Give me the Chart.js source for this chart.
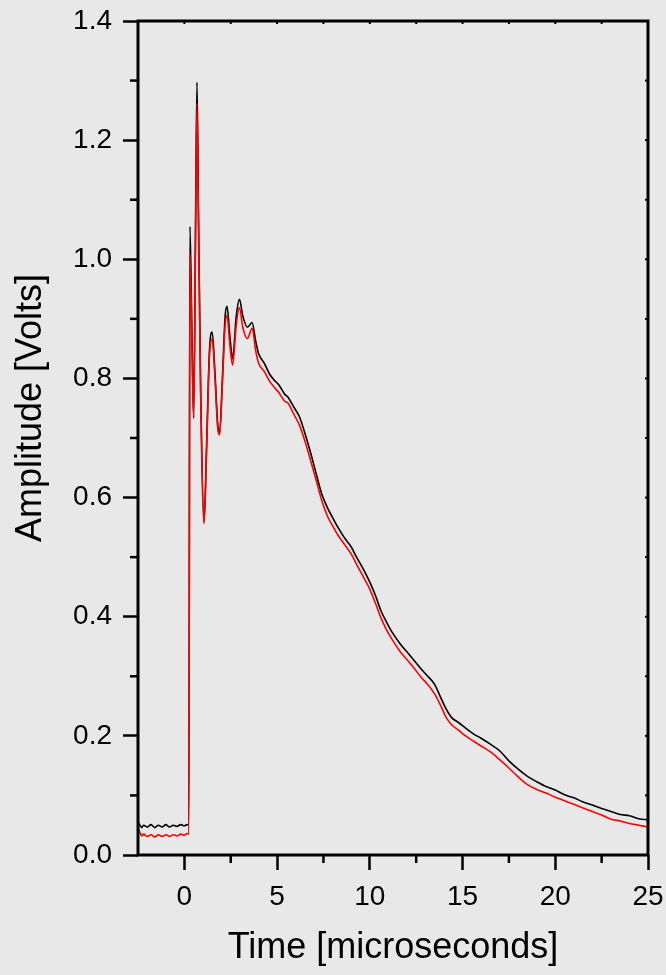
<!DOCTYPE html>
<html>
<head>
<meta charset="utf-8">
<script src="https://cdn.jsdelivr.net/npm/chart.js@4.4.1/dist/chart.umd.min.js"></script>
<style>
  html, body { margin: 0; padding: 0; background: #e8e8e8; }
  #wrap { width: 666px; height: 975px; position: relative; }
</style>
</head>
<body>
<div id="wrap"><canvas id="pulseChart"></canvas></div>
<script>
// Tiempo en microsegundos (eje x)
const timeUs = [
  -2.5, -2.4, -2.3, -2.2, -2.0, -1.8, -1.6, -1.4, -1.2, -1.0, -0.8, -0.6, -0.4, -0.2, 0.0, 0.15, 0.24,
  0.30, 0.42, 0.50, 0.60, 0.68, 0.76, 0.88, 1.06, 1.20, 1.35, 1.50, 1.65, 1.80, 1.90, 2.05, 2.20, 2.30,
  2.45, 2.60, 2.80, 2.97, 3.15, 3.40, 3.65, 3.85, 4.0, 4.3, 4.6, 4.85, 5.1, 5.4, 5.6, 5.9, 6.2, 6.5,
  6.8, 7.1, 7.4, 7.7, 8.0, 8.3, 8.6, 9.0, 9.3, 9.7, 10.0, 10.3, 10.6, 10.9, 11.2, 11.6, 12.0, 12.4,
  12.8, 13.1, 13.5, 13.8, 14.1, 14.4, 14.8, 15.2, 15.6, 16.0, 16.5, 17.0, 17.5, 18.0, 18.5, 19.0,
  19.5, 20.0, 20.5, 21.0, 21.5, 22.0, 22.5, 23.0, 23.5, 24.0, 24.5, 25.0
];

// Amplitud en voltios, traza negra
const ampBlack = [
  0.056, 0.050, 0.046, 0.050, 0.047, 0.051, 0.046, 0.050, 0.047, 0.051, 0.047, 0.050, 0.048, 0.051, 0.049, 0.051, 0.050,
  1.055, 0.850, 0.733, 1.050, 1.297, 1.080, 0.780, 0.559, 0.690, 0.845, 0.878, 0.810, 0.722, 0.708, 0.800, 0.905, 0.921,
  0.872, 0.833, 0.905, 0.933, 0.905, 0.886, 0.894, 0.862, 0.842, 0.826, 0.807, 0.797, 0.789, 0.774, 0.768, 0.752, 0.736, 0.708,
  0.676, 0.641, 0.607, 0.584, 0.566, 0.549, 0.534, 0.517, 0.499, 0.477, 0.458, 0.436, 0.410, 0.391, 0.374, 0.356, 0.341, 0.326,
  0.311, 0.301, 0.286, 0.266, 0.246, 0.231, 0.222, 0.212, 0.203, 0.196, 0.186, 0.175, 0.158, 0.144, 0.132, 0.123,
  0.115, 0.109, 0.101, 0.096, 0.089, 0.084, 0.078, 0.073, 0.068, 0.066, 0.061, 0.059
];

// Amplitud en voltios, traza roja
const ampRed = [
  0.045, 0.038, 0.032, 0.035, 0.031, 0.034, 0.030, 0.034, 0.031, 0.034, 0.031, 0.034, 0.032, 0.035, 0.033, 0.036, 0.035,
  1.010, 0.840, 0.735, 1.020, 1.262, 1.060, 0.770, 0.556, 0.680, 0.835, 0.866, 0.800, 0.716, 0.705, 0.790, 0.890, 0.906,
  0.857, 0.822, 0.890, 0.919, 0.886, 0.867, 0.884, 0.846, 0.826, 0.812, 0.795, 0.785, 0.776, 0.762, 0.758, 0.740, 0.722, 0.695,
  0.663, 0.630, 0.596, 0.570, 0.552, 0.536, 0.523, 0.505, 0.487, 0.464, 0.446, 0.423, 0.398, 0.378, 0.362, 0.343, 0.328, 0.313,
  0.297, 0.287, 0.270, 0.252, 0.232, 0.219, 0.209, 0.199, 0.191, 0.183, 0.173, 0.160, 0.146, 0.131, 0.118, 0.110,
  0.104, 0.097, 0.091, 0.085, 0.079, 0.073, 0.067, 0.060, 0.057, 0.053, 0.050, 0.047
];

// Marcas de los ejes
const xMajorTicks = [0, 5, 10, 15, 20, 25];
const xMinorTicks = [2.5, 7.5, 12.5, 17.5, 22.5];
const yMajorTicks = [0, 0.2, 0.4, 0.6, 0.8, 1.0, 1.2, 1.4];
const yMinorTicks = [0.1, 0.3, 0.5, 0.7, 0.9, 1.1, 1.3];

const FONT = "'Liberation Sans', Arial, sans-serif";

// Marco, marcas menores y título del eje y
const marcoEjes = {
  id: 'marcoEjes',
  afterDraw(chart) {
    const { ctx, chartArea: a, scales: { x, y } } = chart;
    ctx.save();
    ctx.strokeStyle = '#000';
    ctx.lineCap = 'butt';

    const linea = (x1, y1, x2, y2) => {
      ctx.beginPath();
      ctx.moveTo(x1, y1);
      ctx.lineTo(x2, y2);
      ctx.stroke();
    };

    ctx.lineWidth = 2.5;
    xMinorTicks.forEach(v => {
      const px = x.getPixelForValue(v);
      linea(px, a.bottom, px, a.bottom + 8);
    });
    yMinorTicks.forEach(v => {
      const py = y.getPixelForValue(v);
      linea(a.left, py, a.left - 8, py);
    });

    // marcas cortas hacia dentro arriba y a la derecha
    ctx.lineWidth = 2;
    xMajorTicks.concat(xMinorTicks).forEach(v => {
      const px = x.getPixelForValue(v);
      linea(px, a.top, px, a.top + 3);
    });
    yMajorTicks.concat(yMinorTicks).forEach(v => {
      const py = y.getPixelForValue(v);
      linea(a.right, py, a.right - 3, py);
    });

    ctx.lineWidth = 3;
    ctx.strokeRect(a.left, a.top, a.right - a.left, a.bottom - a.top);

    ctx.fillStyle = '#000';
    ctx.font = '36px ' + FONT;
    ctx.textAlign = 'center';
    ctx.textBaseline = 'middle';
    ctx.translate(31, 408);
    ctx.rotate(-Math.PI / 2);
    ctx.fillText('Amplitude [Volts]', 0, 0);
    ctx.restore();
  }
};

function crearGrafico() {
  const ctx = document.getElementById('pulseChart').getContext('2d');
  new Chart(ctx, {
    type: 'line',
    data: {
      datasets: [{
        label: 'Canal rojo',
        data: timeUs.map((t, i) => ({ x: t, y: ampRed[i] })),
        borderColor: '#ff0000',
        borderWidth: 1.6,
        pointRadius: 0,
        cubicInterpolationMode: 'monotone',
        fill: false
      }, {
        label: 'Canal negro',
        data: timeUs.map((t, i) => ({ x: t, y: ampBlack[i] })),
        borderColor: '#000000',
        borderWidth: 1.6,
        pointRadius: 0,
        cubicInterpolationMode: 'monotone',
        fill: false
      }]
    },
    options: {
      responsive: true,
      maintainAspectRatio: false,
      animation: false,
      layout: { padding: { top: 21, right: 18, left: 0, bottom: 0 } },
      plugins: {
        legend: { display: false },
        tooltip: { enabled: false }
      },
      scales: {
        x: {
          type: 'linear',
          min: -2.5,
          max: 25,
          afterBuildTicks: scale => { scale.ticks = xMajorTicks.map(v => ({ value: v })); },
          afterFit: scale => {
            scale.height = 120;
            scale.paddingLeft = 0;
            scale.paddingRight = 0;
          },
          border: { display: false },
          grid: {
            drawOnChartArea: false,
            drawTicks: true,
            tickLength: 15,
            tickWidth: 2.5,
            tickColor: '#000'
          },
          ticks: {
            color: '#000',
            padding: 10,
            maxRotation: 0,
            font: { family: FONT, size: 28 }
          },
          title: {
            display: true,
            text: 'Time [microseconds]',
            color: '#000',
            font: { family: FONT, size: 36 },
            padding: { top: 0, bottom: 5 }
          }
        },
        y: {
          type: 'linear',
          min: 0,
          max: 1.4,
          afterBuildTicks: scale => { scale.ticks = yMajorTicks.map(v => ({ value: v })); },
          afterFit: scale => {
            scale.width = 138;
            scale.paddingTop = 0;
            scale.paddingBottom = 0;
          },
          border: { display: false },
          grid: {
            drawOnChartArea: false,
            drawTicks: true,
            tickLength: 15,
            tickWidth: 2.5,
            tickColor: '#000'
          },
          ticks: {
            color: '#000',
            padding: 11,
            font: { family: FONT, size: 28 },
            callback: v => Number(v).toFixed(1)
          }
        }
      }
    },
    plugins: [marcoEjes]
  });
}

window.onload = crearGrafico;
</script>
</body>
</html>
